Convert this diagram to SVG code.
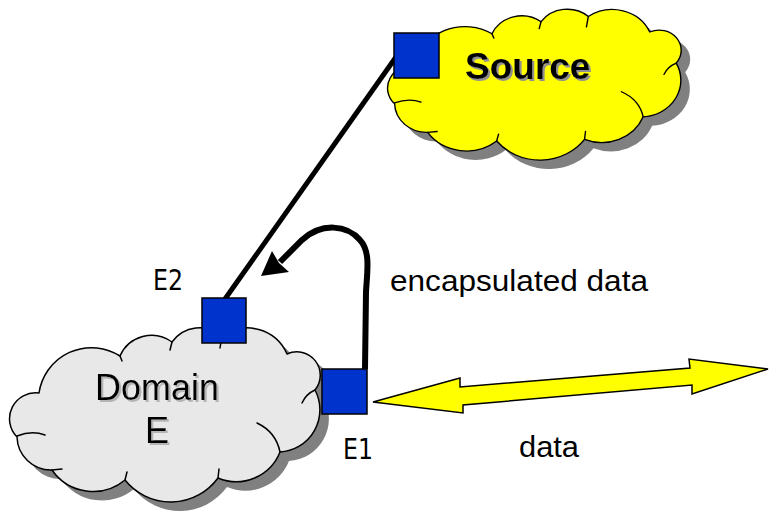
<svg xmlns="http://www.w3.org/2000/svg" width="769" height="515" viewBox="0 0 769 515">
<defs>
<style>
.cl{stroke:#000;stroke-width:1.5;vector-effect:non-scaling-stroke;stroke-linejoin:round}
.in{fill:none;stroke:#000;stroke-width:1.5;vector-effect:non-scaling-stroke;stroke-linecap:round}
.sh{fill:#808080;stroke:none}
.port{fill:#0033CC;stroke:#000;stroke-width:1.5}
.lbl{font-family:"Liberation Sans",Arial,sans-serif;fill:#000}
.dv{font-family:"DejaVu Sans",sans-serif;font-size:29px;fill:#000}
</style>
<filter id="tsDark" x="-10%" y="-20%" width="130%" height="150%">
<feDropShadow dx="2" dy="2" stdDeviation="0.4" flood-color="#909090" flood-opacity="1"/>
</filter>
<filter id="tsLight" x="-10%" y="-20%" width="130%" height="150%">
<feDropShadow dx="2" dy="2" stdDeviation="0.4" flood-color="#B4B4B4" flood-opacity="1"/>
</filter>
<path id="cloud" d="M7 105 A26 26 0 0 1 29 61 A53 53 0 0 1 110 24 A34.5 34.5 0 0 1 162 10 A34 34 0 0 1 212 4 A43.5 43.5 0 0 1 277 22 A23.4 23.4 0 0 1 305 58 A42.3 42.3 0 0 1 270 120 A47 47 0 0 1 208 146 A58.5 58.5 0 0 1 115 148 A50 50 0 0 1 42 138 A34 34 0 0 1 7 105 Z"/>
<path id="inner" d="M7 104 Q22 98 35 103 M110 24 L112 29 M162 10 L160 18 M212 4 L210 16 M305 58 Q296 62 292 71 M270 120 Q266 100 247 91 M208 146 L209 137 M115 148 L117 140 M42 138 L52 137"/>
</defs>

<g id="source">
<g transform="translate(397,22) scale(0.945,0.865)"><use href="#cloud" class="sh"/></g>
<g transform="translate(388,13) scale(0.945,0.865)"><use href="#cloud" class="cl" fill="#FFFF00"/><use href="#inner" class="in"/></g>
<text class="lbl" x="465" y="79" font-size="37" font-weight="bold" filter="url(#tsDark)">Source</text>
</g>

<g id="domainE">
<g transform="translate(19,341)"><use href="#cloud" class="sh"/></g>
<g transform="translate(10,332)"><use href="#cloud" class="cl" fill="#E8E8E8"/><use href="#inner" class="in"/></g>
<text class="lbl" font-size="36" text-anchor="middle" filter="url(#tsLight)"><tspan x="157" y="400">Domain</tspan><tspan x="157" y="443">E</tspan></text>
</g>

<g id="connectors">
<line x1="396" y1="57" x2="225" y2="299" stroke="#000" stroke-width="5"/>
<path d="M365 369 L366 292 C367 272 371 252 360 240 C347 225 322 222 302 240 L280 262" fill="none" stroke="#000" stroke-width="6"/>
<polygon points="261,276 272,251 279,263 289,272" fill="#000"/>
<polygon points="373,402 460,378 460,387 690,368 689,359 768,369 692,394 692,385 463,405 463,413" fill="#FFFF00" stroke="#000" stroke-width="1.5" stroke-linejoin="miter"/>
</g>

<g id="srcPort"><rect class="port" x="394" y="33" width="45" height="45"/></g>
<g id="E2"><rect class="port" x="202" y="298" width="44" height="45"/><text class="dv" x="153" y="290" textLength="30" lengthAdjust="spacingAndGlyphs">E2</text></g>
<g id="E1"><rect class="port" x="322" y="369" width="45" height="45"/><text class="dv" x="343" y="459" textLength="30" lengthAdjust="spacingAndGlyphs">E1</text></g>

<g id="labels">
<text class="lbl" x="390" y="291" font-size="30" textLength="258" lengthAdjust="spacingAndGlyphs">encapsulated data</text>
<text class="lbl" x="519" y="457" font-size="30" textLength="60" lengthAdjust="spacingAndGlyphs">data</text>
</g>
</svg>
